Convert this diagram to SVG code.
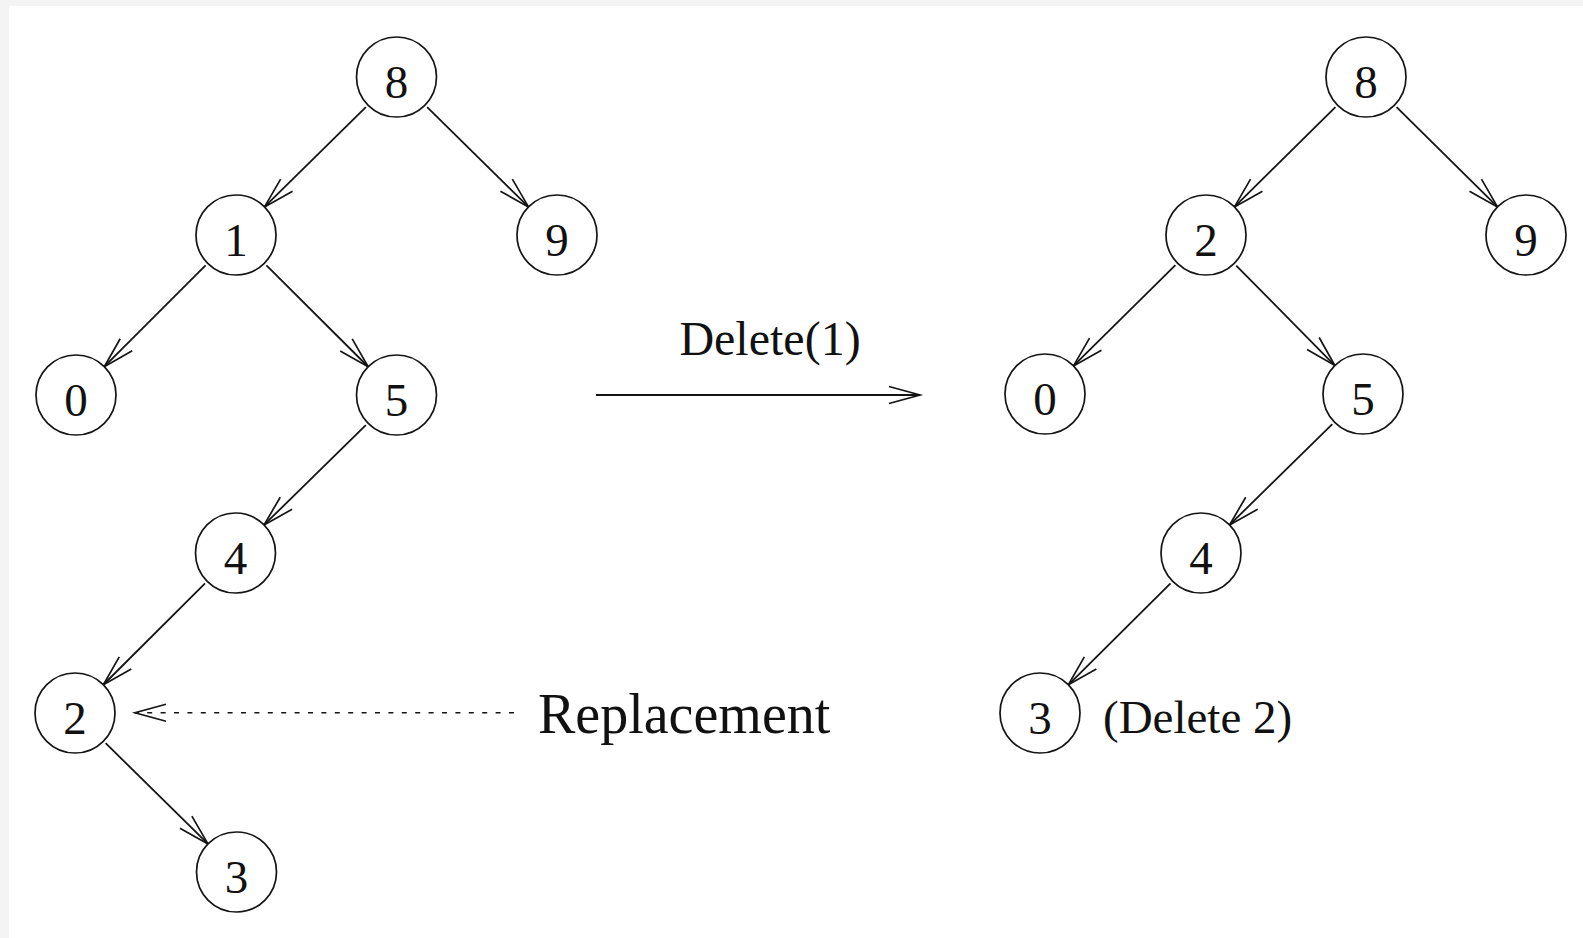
<svg xmlns="http://www.w3.org/2000/svg" width="1583" height="938" viewBox="0 0 1583 938">
  <style>
    .node circle { fill: #ffffff; stroke: #141414; stroke-width: 1.7; }
    .node text { font-family: "Liberation Serif", "Times New Roman", serif; font-size: 47px; fill: #111111; text-anchor: middle; }
    .edge { stroke: #141414; stroke-width: 1.8; fill: none; marker-end: url(#vee); }
    .dashed { stroke-width: 1.5; stroke-dasharray: 5 8.4; }
    .label { font-family: "Liberation Serif", "Times New Roman", serif; fill: #111111; }
  </style>
  <defs>
    <!-- open, narrow arrowhead used on every connector -->
    <marker id="vee" markerUnits="userSpaceOnUse" markerWidth="40" markerHeight="24" refX="0" refY="0" orient="auto" overflow="visible">
      <path d="M-31,-8.5 L0,0 L-31,8.5" fill="none" stroke="#141414" stroke-width="1.7"/>
    </marker>
  </defs>

  <!-- page -->
  <rect x="0" y="0" width="1583" height="938" fill="#f4f4f4"/>
  <rect x="9" y="6" width="1574" height="932" fill="#ffffff"/>

  <!-- connectors -->
  <g id="connectors">
    <!-- tree before deletion -->
    <line class="edge" x1="365.85" y1="107.17" x2="264.51" y2="206.94"/>
    <line class="edge" x1="427.15" y1="107.17" x2="528.49" y2="206.94"/>
    <line class="edge" x1="205.59" y1="265.41" x2="104.28" y2="366.72"/>
    <line class="edge" x1="266.45" y1="265.36" x2="368.17" y2="366.76"/>
    <line class="edge" x1="365.81" y1="425.12" x2="264.05" y2="524.98"/>
    <line class="edge" x1="205.05" y1="583.36" x2="103.33" y2="684.76"/>
    <line class="edge" x1="105.65" y1="743.17" x2="207.99" y2="843.94"/>
    <!-- tree after deletion -->
    <line class="edge" x1="1335.41" y1="107.21" x2="1234.46" y2="206.9"/>
    <line class="edge" x1="1396.59" y1="107.21" x2="1497.54" y2="206.9"/>
    <line class="edge" x1="1175.41" y1="265.21" x2="1073.46" y2="365.9"/>
    <line class="edge" x1="1236.22" y1="265.6" x2="1334.89" y2="365.53"/>
    <line class="edge" x1="1332.31" y1="424.12" x2="1229.55" y2="524.98"/>
    <line class="edge" x1="1170.5" y1="583.31" x2="1068.37" y2="684.8"/>
    <!-- transformation arrow and replacement pointer -->
    <line class="edge" x1="596" y1="395" x2="920" y2="395"/>
    <line class="edge dashed" x1="514" y1="712.7" x2="135" y2="712.7"/>
  </g>

  <!-- tree before deletion -->
  <g id="L8" class="node"><circle cx="396.5" cy="77" r="40"/><text x="396.5" y="98">8</text></g>
  <g id="L1" class="node"><circle cx="236" cy="235" r="40"/><text x="236" y="256">1</text></g>
  <g id="L9" class="node"><circle cx="557" cy="235" r="40"/><text x="557" y="256">9</text></g>
  <g id="L0" class="node"><circle cx="76" cy="395" r="40"/><text x="76" y="416">0</text></g>
  <g id="L5" class="node"><circle cx="396.5" cy="395" r="40"/><text x="396.5" y="416">5</text></g>
  <g id="L4" class="node"><circle cx="235.5" cy="553" r="40"/><text x="235.5" y="574">4</text></g>
  <g id="L2" class="node"><circle cx="75" cy="713" r="40"/><text x="75" y="734">2</text></g>
  <g id="L3" class="node"><circle cx="236.5" cy="872" r="40"/><text x="236.5" y="893">3</text></g>

  <!-- tree after deletion -->
  <g id="R8" class="node"><circle cx="1366" cy="77" r="40"/><text x="1366" y="98">8</text></g>
  <g id="R2" class="node"><circle cx="1206" cy="235" r="40"/><text x="1206" y="256">2</text></g>
  <g id="R9" class="node"><circle cx="1526" cy="235" r="40"/><text x="1526" y="256">9</text></g>
  <g id="R0" class="node"><circle cx="1045" cy="394" r="40"/><text x="1045" y="415">0</text></g>
  <g id="R5" class="node"><circle cx="1363" cy="394" r="40"/><text x="1363" y="415">5</text></g>
  <g id="R4" class="node"><circle cx="1201" cy="553" r="40"/><text x="1201" y="574">4</text></g>
  <g id="R3" class="node"><circle cx="1040" cy="713" r="40"/><text x="1040" y="734">3</text></g>

  <!-- labels -->
  <g id="labels">
    <text class="label" x="770" y="355" font-size="48" text-anchor="middle">Delete(1)</text>
    <text class="label" x="538" y="732.7" font-size="56">Replacement</text>
    <text class="label" x="1103" y="733" font-size="47">(Delete 2)</text>
  </g>
</svg>
